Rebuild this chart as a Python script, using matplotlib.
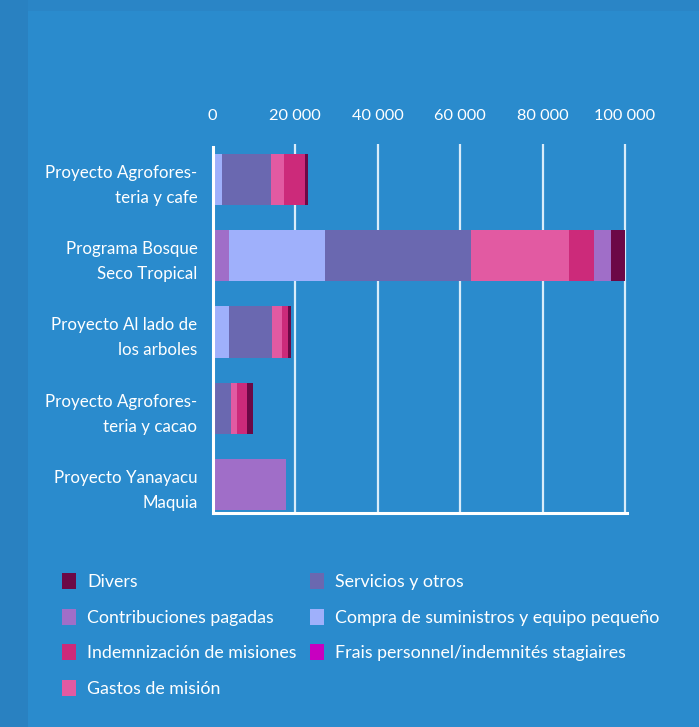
import matplotlib
matplotlib.use("Agg")
import matplotlib.pyplot as plt
from matplotlib.patches import Rectangle, Patch
import numpy as np

plt.rcParams['font.family'] = ['Lato', 'DejaVu Sans']

categories = [
    "Proyecto Agrofores-\nteria y cafe",
    "Programa Bosque\nSeco Tropical",
    "Proyecto Al lado de\nlos arboles",
    "Proyecto Agrofores-\nteria y cacao",
    "Proyecto Yanayacu\nMaquia",
]

# stacking order (left to right)
series_names = [
    "Frais personnel/indemnités stagiaires",
    "Compra de suministros y equipo pequeño",
    "Servicios y otros",
    "Gastos de misión",
    "Indemnización de misiones",
    "Contribuciones pagadas",
    "Divers",
]
frais = [0, 3850, 0, 0, 17750]
compra = [2300, 23450, 3900, 0, 0]
servicios = [11900, 35450, 10500, 4400, 0]
gastos = [3100, 23750, 2300, 1550, 0]
indemn = [5100, 6000, 1550, 2300, 0]
contrib = [0, 4000, 0, 0, 0]
divers = [800, 3500, 770, 1550, 0]
series_values = [frais, compra, servicios, gastos, indemn, contrib, divers]

bar_colors = ["#a06ec8", "#9fb0fb", "#6a68b0", "#e25aa2", "#cc2a7a", "#a06ec8", "#6c0846"]

legend_names = [
    "Divers",
    "Contribuciones pagadas",
    "Indemnización de misiones",
    "Gastos de misión",
    "Servicios y otros",
    "Compra de suministros y equipo pequeño",
    "Frais personnel/indemnités stagiaires",
]
legend_colors = ["#6c0846", "#a06ec8", "#cc2a7a", "#e25aa2", "#6a68b0", "#9fb0fb", "#c800c0"]

xticks = [0, 20000, 40000, 60000, 80000, 100000]
xtick_labels = ["0", "20 000", "40 000", "60 000", "80 000", "100 000"]

BG = "#2a8bcd"
fig = plt.figure(figsize=(6.99, 7.27), dpi=100, facecolor=BG)
W, H = 699, 727
# darker frame strips
fig.patches.append(Rectangle((0, 0), 28 / W, 1, transform=fig.transFigure,
                             facecolor="#2981c1", edgecolor="none", zorder=-5))
fig.patches.append(Rectangle((28 / W, 1 - 11 / H), 1, 11 / H, transform=fig.transFigure,
                             facecolor="#2a85c6", edgecolor="none", zorder=-5))

ax = fig.add_axes([212.7 / W, 1 - 513 / H, 412.3 / W, 366 / H])
ax.set_facecolor("none")

y = np.arange(len(categories))
left = np.zeros(len(categories))
for name, vals, col in zip(series_names, series_values, bar_colors):
    vals = np.array(vals, dtype=float)
    ax.barh(y, vals, left=left, height=0.67, color=col, edgecolor="none", zorder=3)
    left += vals

ax.set_xlim(0, 100000)
ax.set_ylim(4 + 0.374, -0.426)
ax.set_yticks(y)
ax.set_yticklabels(categories, color="white", fontsize=12.2, linespacing=1.68,
                   ha="right")
ax.xaxis.tick_top()
ax.set_xticks(xticks)
ax.set_xticklabels(xtick_labels, color="white", fontsize=11.8)
ax.tick_params(axis="both", length=0)
ax.tick_params(axis="x", pad=17)
ax.tick_params(axis="y", pad=11)

for xv in xticks[1:]:
    ax.plot([xv, xv], [4 + 0.374, -0.47], color="#d8ecfa", lw=1.6, zorder=2,
            clip_on=False, solid_capstyle="butt")
ax.plot([0, 0], [4 + 0.374, -0.43], color="white", lw=2.2, zorder=4, clip_on=False)

for s in ["top", "right", "left"]:
    ax.spines[s].set_visible(False)
ax.spines["bottom"].set_color("white")
ax.spines["bottom"].set_linewidth(2.2)
ax.spines["bottom"].set_bounds(0, 100500)
ax.spines["bottom"].set_zorder(5)

handles = [Patch(facecolor=c, edgecolor="none") for c in legend_colors]
leg = fig.legend(handles, legend_names, loc="upper left",
                 bbox_to_anchor=(46 / W, 1 - 557 / H), ncol=2, frameon=False,
                 fontsize=12.8, labelcolor="white", handlelength=0.8,
                 handleheight=1.0, handletextpad=0.6, labelspacing=1.05,
                 columnspacing=0.75)

fig.savefig("out.png", dpi=100, facecolor=BG)
